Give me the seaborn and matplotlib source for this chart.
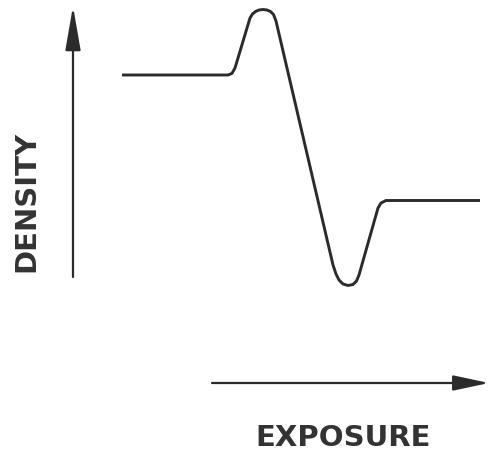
"""
Schematic characteristic curve: density vs. exposure with an
overshoot peak and undershoot trough (edge effect sketch).
"""

import pandas as pd
import matplotlib.pyplot as plt
import seaborn as sns

sns.set_style("white")
plt.rcParams["font.family"] = ["DejaVu Sans"]

INK = "#2b2b2b"

# Curve (arbitrary units, origin where the axes cross)
exposure = [1.225, 3.875, 3.975, 4.05, 4.425, 4.4875, 4.5625, 4.65, 4.75,
            4.85, 4.9375, 5.0125, 5.075, 6.5, 6.575, 6.65, 6.75, 6.875,
            7.0, 7.0875, 7.15, 7.625, 7.7, 7.825, 10.175]
density = [7.70, 7.70, 7.74, 7.875, 9.125, 9.225, 9.2875, 9.325, 9.3375,
           9.325, 9.2875, 9.2125, 9.05, 2.95, 2.725, 2.575, 2.475, 2.4375,
           2.4625, 2.55, 2.7, 4.375, 4.5, 4.5625, 4.5625]

# Axis arrows (tail, tip)
density_arrow = [(0.0, 2.65), (0.0, 9.42)]
exposure_arrow = [(3.475, 0.0), (10.4, 0.0)]

x_label = "EXPOSURE"
y_label = "DENSITY"

df = pd.DataFrame({"exposure": exposure, "density": density})

fig = plt.figure(figsize=(4.9, 4.54), dpi=100)
ax = fig.add_axes([0, 0, 1, 1])

sns.lineplot(data=df, x="exposure", y="density", sort=False, ax=ax,
             color=INK, linewidth=2.1, solid_joinstyle="round",
             solid_capstyle="butt")

# Axis arrows
for (tail, tip), (hl, hw) in [(density_arrow, (2.7, 0.47)),
                              (exposure_arrow, (2.2, 0.47))]:
    ax.annotate("", xy=tip, xytext=tail,
                arrowprops=dict(arrowstyle=f"-|>,head_length={hl},head_width={hw}",
                                mutation_scale=10, color=INK, lw=1.6,
                                shrinkA=0, shrinkB=0))

ax.set_xlim(-1.825, 10.425)
ax.set_ylim(-1.775, 9.575)
ax.axis("off")

fig.text(0.701, 0.036, x_label, ha="center", va="center", fontsize=21,
         fontweight="bold", color="#333333")
fig.text(0.053, 0.557, y_label, ha="center", va="center", fontsize=21,
         fontweight="bold", color="#333333", rotation=90)

fig.savefig("out.png", dpi=100, facecolor="white")
